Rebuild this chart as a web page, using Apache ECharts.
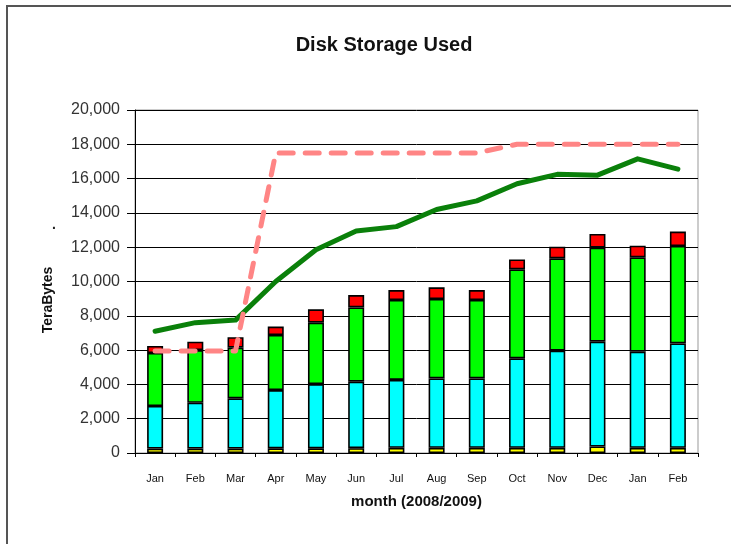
<!DOCTYPE html>
<html>
<head>
<meta charset="utf-8">
<title>Disk Storage Used</title>
<script src="https://cdn.jsdelivr.net/npm/echarts@6/dist/echarts.min.js"></script>
<style>
  html, body { margin: 0; padding: 0; background: #fff; }
  #chart { width: 731px; height: 544px; }
</style>
</head>
<body>
<div id="chart"></div>
<script>
// data
const months = ["Jan", "Feb", "Mar", "Apr", "May", "Jun", "Jul", "Aug", "Sep", "Oct", "Nov", "Dec", "Jan", "Feb"];
const yellowPart = [260, 260, 260, 270, 270, 280, 300, 300, 300, 300, 300, 380, 300, 300];
const cyanPart = [2480, 2670, 2930, 3400, 3750, 3880, 3960, 4050, 4050, 5220, 5670, 6110, 5610, 6090];
const greenPart = [3090, 3070, 2950, 3210, 3580, 4330, 4660, 4630, 4570, 5190, 5380, 5480, 5500, 5680];
const redPart = [410, 490, 610, 490, 780, 720, 580, 680, 580, 580, 680, 800, 680, 840];
const greenLine = [7100, 7600, 7750, 10000, 11850, 12950, 13200, 14200, 14700, 15700, 16250, 16200, 17150, 16550];
const pinkLine = [5950, 5950, 5950, 17500, 17500, 17500, 17500, 17500, 17500, 18000, 18000, 18000, 18000, 18000];

const chart = echarts.init(document.getElementById("chart"));

const fontFamily = "Arial, 'Liberation Sans', sans-serif";

// stacked bar segment with black outline
const barSeries = (name, data, color) => ({
  name: name,
  type: "bar",
  stack: "disk",
  barWidth: 16,
  data: data,
  itemStyle: {
    color: color,
    borderColor: "#000",
    borderWidth: 1.6,
  },
});

const option = {
  backgroundColor: "#fff",
  animation: false,
  title: {
    text: "Disk Storage Used",
    left: 379,
    top: 30,
    textAlign: "center",
    textStyle: {
      fontFamily: fontFamily,
      fontSize: 20,
      fontWeight: "bold",
      color: "#111",
    },
  },
  graphic: [
    {
      type: "rect",
      shape: { x: 7, y: 6, width: 760, height: 600 },
      style: { fill: "none", stroke: "#555", lineWidth: 2 },
      silent: true,
    },
    {
      // y axis title, sits a bit below the plot middle like the original
      type: "text",
      x: 48,
      y: 300,
      rotation: Math.PI / 2,
      style: {
        text: "TeraBytes",
        fill: "#111",
        font: "bold 14px Arial, 'Liberation Sans', sans-serif",
        align: "center",
        verticalAlign: "middle",
      },
      silent: true,
    },
    {
      type: "text",
      x: 52,
      y: 218,
      style: { text: ".", fill: "#222", font: "bold 14px Arial" },
      silent: true,
    },
  ],
  grid: {
    left: 135,
    right: 33,
    top: 110,
    bottom: 91,
    show: true,
    borderColor: "#999",
    borderWidth: 1,
  },
  xAxis: {
    type: "category",
    data: months,
    name: "month (2008/2009)",
    nameLocation: "middle",
    nameGap: 41,
    nameTextStyle: {
      fontFamily: fontFamily,
      fontSize: 15,
      fontWeight: "bold",
      color: "#111",
    },
    axisLine: { lineStyle: { color: "#000", width: 1 } },
    axisTick: { show: true, length: 4, lineStyle: { color: "#000" } },
    axisLabel: {
      interval: 0,
      margin: 20,
      fontFamily: fontFamily,
      fontSize: 11,
      color: "#111",
    },
  },
  yAxis: {
    type: "value",
    min: 0,
    max: 20000,
    interval: 2000,
    axisLine: { show: true, lineStyle: { color: "#000", width: 1 } },
    axisTick: { show: true, length: 8, lineStyle: { color: "#000" } },
    axisLabel: {
      margin: 15,
      fontFamily: fontFamily,
      fontSize: 16,
      color: "#333",
      formatter: (v) => v.toString().replace(/\B(?=(\d{3})+(?!\d))/g, ","),
    },
    splitLine: { show: true, lineStyle: { color: "#000", width: 1 } },
  },
  series: [
    barSeries("yellow", yellowPart, "#ffff00"),
    barSeries("cyan", cyanPart, "#00ffff"),
    barSeries("green", greenPart, "#00ff00"),
    barSeries("red", redPart, "#ff0000"),
    {
      name: "used",
      type: "line",
      data: greenLine,
      symbol: "none",
      z: 5,
      lineStyle: { color: "#0a800a", width: 5, cap: "round", join: "round" },
    },
    {
      name: "capacity",
      type: "line",
      data: pinkLine,
      symbol: "none",
      z: 6,
      lineStyle: {
        color: "#ff8585",
        width: 5,
        type: [14, 12],
        cap: "round",
        join: "round",
      },
    },
  ],
};

chart.setOption(option);
</script>
</body>
</html>
